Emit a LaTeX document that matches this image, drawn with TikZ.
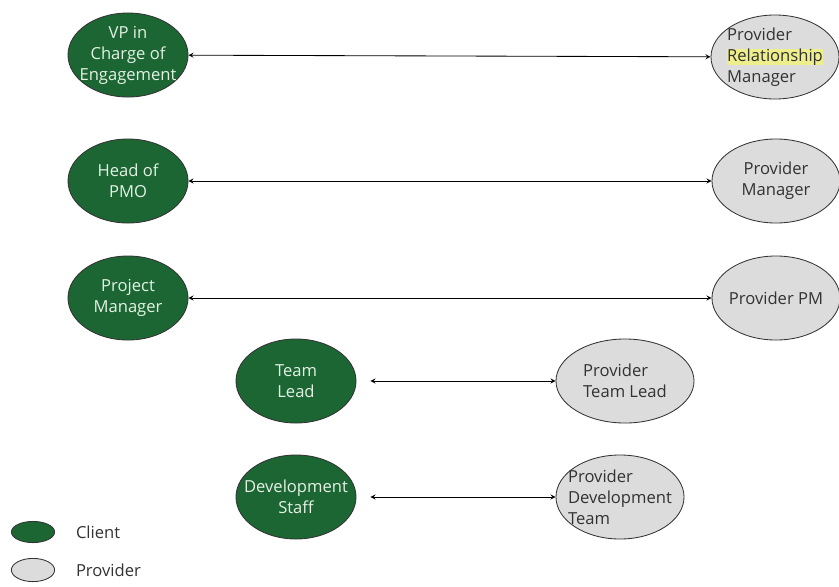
\documentclass[tikz,border=0pt]{standalone}
\usepackage{fontspec}
\setmainfont{Open Sans}
\usetikzlibrary{shapes,arrows,positioning}
\definecolor{clientgreen}{RGB}{28,102,52}
\definecolor{providergray}{RGB}{220,220,220}
\definecolor{clienttext}{RGB}{228,242,228}
\definecolor{providertext}{RGB}{50,50,50}
\definecolor{markyellow}{RGB}{238,238,140}

\begin{document}
\begin{tikzpicture}[x=0.025cm, y=-0.025cm,
        client/.style={ellipse, draw=black!80, semithick, fill=clientgreen, minimum width=3cm, minimum height=2.1cm, inner sep=0pt},
        provider/.style={ellipse, draw=black!80, semithick, fill=providergray, minimum width=3.2cm, minimum height=2.1cm, inner sep=0pt},
        ctext/.style={font=\fontsize{11.8}{15}\selectfont, text=clienttext, align=center},
        ptext/.style={font=\fontsize{11.8}{15}\selectfont, text=providertext, align=left},
        link/.style={<->, >=stealth, semithick}
    ]
        \useasboundingbox (0,0) rectangle (839,586);

        % Client side
        \node[client] (vp) at (128,55) {};
        \node[ctext] at (vp) {VP in\\Charge of\\Engagement};
        \node[client] (pmo) at (128,181) {};
        \node[ctext] at (pmo) {Head of\\PMO};
        \node[client] (pm) at (128,298) {};
        \node[ctext] at (pm) {Project\\Manager};
        \node[client] (tl) at (296,381) {};
        \node[ctext] at (tl) {Team\\Lead};
        \node[client] (dev) at (296,497) {};
        \node[ctext] at (dev) {Development\\Staff};

        % Provider side
        \node[provider] (prm) at (775,57) {};
        \node[ptext] at (prm) {Provider\\{\setlength{\fboxsep}{0pt}\colorbox{markyellow}{Relationship}}\\Manager};
        \node[provider] (pmgr) at (776,181) {};
        \node[ptext, align=center] at (pmgr) {Provider\\Manager};
        \node[provider] (ppm) at (776,298) {};
        \node[ptext] at (ppm) {Provider PM};
        \node[provider, minimum width=3.45cm] (ptl) at (625,381) {};
        \node[ptext] at (ptl) {Provider\\Team Lead};
        \node[provider] (pdev) at (620,497) {};
        \node[ptext] at (pdev) {Provider\\Development\\Team};

        % Links
        \draw[link] (vp) -- (prm);
        \draw[link] (pmo) -- (pmgr);
        \draw[link] (pm) -- (ppm);
        \draw[link, shorten <=0.35cm] (tl) -- (ptl);
        \draw[link, shorten <=0.35cm] (dev) -- (pdev);

        % Legend
        \node[client, minimum width=1.08cm, minimum height=0.53cm] (kc) at (33,532) {};
        \node[ptext, right=0.4cm of kc] {Client};
        \node[provider, minimum width=1.08cm, minimum height=0.58cm] (kp) at (33,570) {};
        \node[ptext, right=0.4cm of kp] {Provider};

    \end{tikzpicture}
\end{document}
